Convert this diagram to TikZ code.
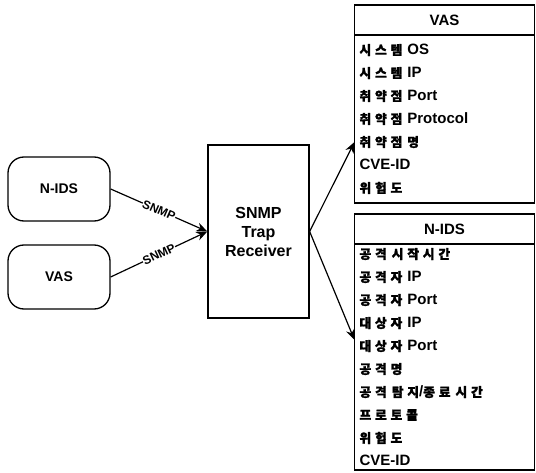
\documentclass[tikz,border=0pt]{standalone}
\usepackage{fontspec}
\setmainfont{Liberation Sans}
\newfontfamily\krfont{Noto Sans CJK KR}[Scale=0.85,LetterSpace=30,
  BoldFeatures={FakeBold=1.5}]
\newcommand{\ko}[1]{{\krfont\bfseries #1}}
\usetikzlibrary{positioning,arrows.meta}
\tikzset{
  src-box/.style={draw,line width=1.3pt,rounded corners=16pt,
    minimum width=102pt,minimum height=64pt,
    font=\bfseries\fontsize{14}{16}\selectfont},
  recv-box/.style={draw,line width=1.3pt,minimum width=101pt,
    minimum height=173pt,align=center,
    font=\bfseries\fontsize{16}{19}\selectfont},
  tbl-head/.style={draw,line width=1.3pt,outer sep=0pt,
    minimum width=180pt,minimum height=30pt,
    font=\bfseries\fontsize{15}{16}\selectfont},
  tbl-body/.style={draw,line width=1.3pt,outer sep=0pt,
    text width=170pt,inner xsep=5pt,align=left,
    font=\bfseries\fontsize{15}{23}\selectfont},
  arrow/.style={-{Stealth[length=11pt,width=9pt]},line width=1.2pt},
  snmp-label/.style={sloped,fill=white,inner sep=0.3pt,
    font=\bfseries\fontsize{12}{12}\selectfont},
}
\begin{document}
\begin{tikzpicture}[x=1pt,y=-1pt]
  \useasboundingbox (0,0) rectangle (536,473);
  % sources
  \node[src-box] (nids) at (59,189) {N-IDS};
  \node[src-box] (vas) at (59,277) {VAS};
  \node[recv-box] (recv) at (258.5,231.5) {SNMP\\Trap\\Receiver};
  % VAS table
  \node[tbl-head] (vashead) at (444.5,20) {VAS};
  \node[tbl-body,minimum height=168pt,below=0pt of vashead] (vasbody)
    {\ko{시스템} OS\\
     \ko{시스템} IP\\
     \ko{취약점} Port\\
     \ko{취약점} Protocol\\
     \ko{취약점 명}\\
     CVE-ID\\
     \ko{위험도}};
  % N-IDS table
  \node[tbl-head] (nidshead) at (444.5,229) {N-IDS};
  \node[tbl-body,minimum height=226pt,below=0pt of nidshead] (nidsbody)
    {\ko{공격 시작시간}\\
     \ko{공격자} IP\\
     \ko{공격자} Port\\
     \ko{대상자} IP\\
     \ko{대상자} Port\\
     \ko{공격명}\\
     \ko{공격 탐지}/\ko{종료 시간}\\
     \ko{프로토콜}\\
     \ko{위험도}\\
     CVE-ID};
  \draw[arrow] (nids.east) -- node[snmp-label]{SNMP} (recv.west);
  \draw[arrow] (vas.east) -- node[snmp-label]{SNMP} (recv.west);
  \draw[arrow] (recv.east) -- ([yshift=-23pt]vasbody.west);
  \draw[arrow] (recv.east) -- ([yshift=17pt]nidsbody.west);
\end{tikzpicture}
\end{document}
